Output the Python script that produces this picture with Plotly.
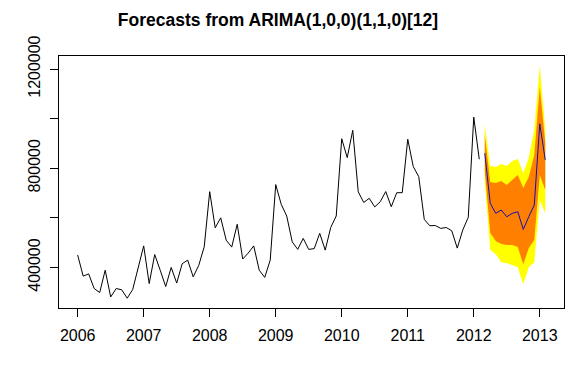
import numpy as np
import plotly.graph_objects as go

start_year = 2006
observed = [450000, 365000, 374000, 315000, 299000, 389000, 281000, 315000, 310000, 276000, 311000, 398000,
            487000, 335000, 452000, 389000, 323000, 400000, 337000, 415000, 429500, 362000, 408000, 483000,
            705500, 560000, 600000, 510000, 482000, 574000, 434000, 458000, 487000, 389000, 360000, 429500,
            734000, 654500, 607300, 503000, 473000, 517200, 472700, 476000, 537400, 469900, 561000, 607300,
            919000, 842800, 953000, 705000, 662000, 678800, 644000, 665000, 706000, 644800, 701400, 701400,
            917100, 806500, 766000, 594000, 568100, 569000, 557600, 561000, 547900, 478000, 550700, 602000,
            1006000, 836400]
fc_mean = [860600, 658600, 618200, 631500, 604400, 618200, 624600, 553500, 604400, 651700, 979000, 833500]
fc_hi95 = [975000, 809300, 805300, 817400, 809300, 829500, 837600, 781000, 841600, 954700, 1213300, 954700]
fc_hi80 = [934500, 744600, 740600, 748700, 732500, 752700, 772900, 720400, 764900, 853700, 1128500, 902300]
fc_lo80 = [789100, 538600, 506300, 494100, 490100, 490100, 482000, 413300, 478000, 510300, 772900, 712300]
fc_lo95 = [748700, 469900, 453700, 421400, 417400, 409300, 401200, 332500, 401200, 421400, 671900, 619400]
year_ticks = [2006, 2007, 2008, 2009, 2010, 2011, 2012, 2013]
y_ticks = [400000, 600000, 800000, 1000000, 1200000]
y_labels = ["400000", "", "800000", "", "1200000"]

n_obs = len(observed)
t_obs = start_year + np.arange(n_obs) / 12
t_fc = start_year + (n_obs + np.arange(len(fc_mean))) / 12

fig = go.Figure()
fig.add_trace(go.Scatter(x=t_fc, y=fc_hi95, mode="lines", line=dict(width=0), showlegend=False, hoverinfo="skip"))
fig.add_trace(go.Scatter(x=t_fc, y=fc_lo95, mode="lines", line=dict(width=0), fill="tonexty",
                         fillcolor="#FFFF00", showlegend=False))
fig.add_trace(go.Scatter(x=t_fc, y=fc_hi80, mode="lines", line=dict(width=0), showlegend=False, hoverinfo="skip"))
fig.add_trace(go.Scatter(x=t_fc, y=fc_lo80, mode="lines", line=dict(width=0), fill="tonexty",
                         fillcolor="#FF8000", showlegend=False))
fig.add_trace(go.Scatter(x=t_fc, y=fc_mean, mode="lines", line=dict(color="#1010B0", width=1), showlegend=False))
fig.add_trace(go.Scatter(x=t_obs, y=observed, mode="lines", line=dict(color="black", width=1), showlegend=False))

font = "Liberation Sans, Arial, sans-serif"
# the page body has an 8px margin, so the figure is 8px smaller than the window
fig.update_layout(
    width=577, height=364,
    margin=dict(l=51, r=21, t=48, b=64),
    paper_bgcolor="white", plot_bgcolor="white",
    font=dict(family=font, size=16, color="black"),
    title=dict(text="<b>Forecasts from ARIMA(1,0,0)(1,1,0)[12]</b>", xref="container", x=270/577,
               xanchor="center", y=1 - 12/364, yanchor="middle", font=dict(size=17.5, family=font, color="black")),
)
fig.update_xaxes(range=[2005.717, 2013.367], tickvals=year_ticks, ticktext=[str(y) for y in year_ticks],
                 ticks="outside", ticklen=8, tickcolor="black", showgrid=False, zeroline=False, automargin=False,
                 showline=True, linecolor="black", linewidth=1, mirror=True, ticklabelstandoff=5)
fig.update_yaxes(range=[236500, 1252500], tickvals=y_ticks, ticktext=y_labels, tickangle=-90,
                 ticks="outside", ticklen=8, tickcolor="black", showgrid=False, zeroline=False, automargin=False,
                 showline=True, linecolor="black", linewidth=1, mirror=True, ticklabelstandoff=4)
fig.write_html("out.html")
